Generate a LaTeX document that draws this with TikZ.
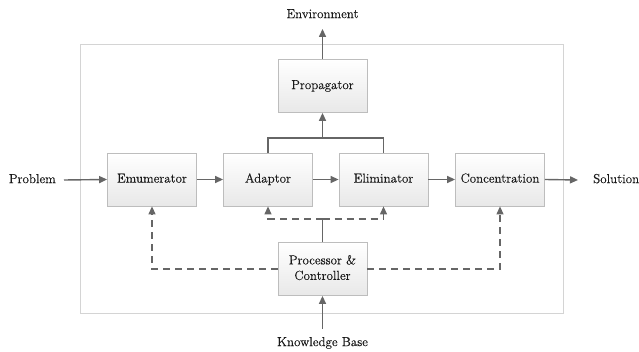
\documentclass[tikz,border=0pt]{standalone}
\usepackage{fontspec}
\setmainfont{Latin Modern Roman}[FakeBold=0.3]
\usetikzlibrary{arrows.meta}
\definecolor{linegray}{HTML}{666666}
\definecolor{boxedge}{HTML}{BDBDBD}
\definecolor{framegray}{HTML}{D4D4D4}
\begin{document}
\begin{tikzpicture}[x=1pt,y=-1pt,
  font=\rmfamily\fontsize{13}{15.5}\selectfont,
  block/.style={draw=boxedge, line width=0.8pt, top color=white, bottom color=black!9,
    minimum width=89pt, minimum height=53pt, inner sep=0pt, align=center, text=black!90},
  label/.style={inner sep=0pt, text=black!90},
  flow/.style={draw=linegray, line width=1.4pt, -{Triangle[length=8pt,width=7pt]}},
  link/.style={draw=linegray, line width=1.4pt},
  ctrl/.style={draw=linegray, line width=1.2pt, dash pattern=on 7pt off 5pt},
  ctrlarrow/.style={ctrl, -{Triangle[length=8pt,width=7pt]}}]
\useasboundingbox (0,0) rectangle (639,352);
% system boundary
\draw[framegray, line width=1pt] (80,45) rectangle (563,313);
% blocks
\node[block] (emu) at (152,179.5) {Emumerator\strut};
\node[block] (ada) at (268,179.5) {Adaptor\strut};
\node[block] (eli) at (383.5,179.5) {Eliminator\strut};
\node[block] (con) at (500,179.5) {Concentration\strut};
\node[block] (pro) at (322.5,86) {Propagator\strut};
\node[block] (pc)  at (322.5,269) {Processor \&\strut\\Controller\strut};
% external labels
\node[label, anchor=east] (prob) at (56,180) {Problem\strut};
\node[label, anchor=west] (sol) at (593,180) {Solution\strut};
\node[label] (env) at (322.5,15) {Environment\strut};
\node[label] (kb)  at (322.5,343) {Knowledge Base\strut};
% main flow
\draw[flow] ([xshift=8pt]prob.east) -- (emu.west);
\draw[flow] (emu) -- (ada);
\draw[flow] (ada) -- (eli);
\draw[flow] (eli) -- (con);
\draw[flow] (con.east) -- ([xshift=-15pt]sol.west);
\draw[flow] (pro.north) -- ([yshift=-6pt]env.south);
\draw[flow] ([yshift=6pt]kb.north) -- (pc.south);
% merge into the propagator
\coordinate (join) at (322.5,138);
\draw[link] (ada.north) |- (join) -| (eli.north);
\draw[flow] (join) -- (pro.south);
% control lines from the processor
\coordinate (csplit) at (322.5,219);
\draw[link] (pc.north) -- (csplit);
\draw[ctrlarrow] (csplit) -| (ada.south);
\draw[ctrlarrow] (csplit) -| (eli.south);
\draw[ctrlarrow] (pc.west) -| (emu.south);
\draw[ctrlarrow] (pc.east) -| (con.south);
\end{tikzpicture}
\end{document}
